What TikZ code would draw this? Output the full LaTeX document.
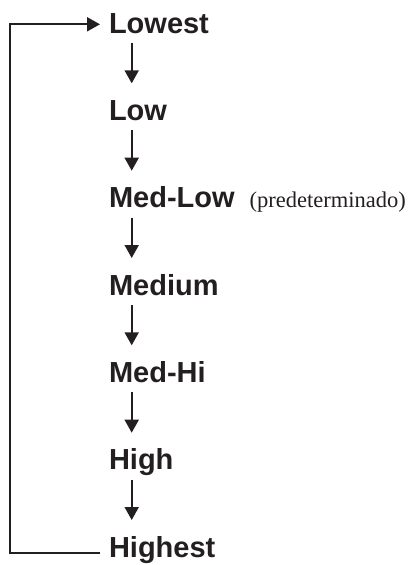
\documentclass[tikz,border=0pt]{standalone}
\usepackage{fontspec}
\setmainfont{Liberation Sans}
\newfontfamily\serifpd{Liberation Serif}
\usetikzlibrary{arrows.meta}
\definecolor{ink}{RGB}{35,31,32}
\begin{document}
\begin{tikzpicture}[x=1pt,y=-1pt,
  lbl/.style={anchor=base west,inner sep=0pt,outer sep=0pt,text=ink,
    font=\fontsize{29}{31}\selectfont\bfseries},
  note/.style={anchor=base west,inner sep=0pt,outer sep=0pt,text=ink,
    font=\serifpd\fontsize{22.5}{24}\selectfont},
  conn/.style={draw=ink,line width=2pt,-{Triangle[length=13pt,width=14pt]}},
  loopline/.style={draw=ink,line width=2pt}]
\useasboundingbox (0,0) rectangle (412,565);
\node[lbl] (n1) at (109,33.0) {Lowest};
\node[lbl] (n2) at (109,120.3) {Low};
\node[lbl] (n3) at (109,207.7) {Med-Low};
\node[note] (pd) at ([xshift=15pt]n3.base east) {(predeterminado)};
\node[lbl] (n4) at (109,295.0) {Medium};
\node[lbl] (n5) at (109,382.3) {Med-Hi};
\node[lbl] (n6) at (109,469.7) {High};
\node[lbl] (n7) at (109,557.0) {Highest};
\foreach \a/\b in {n1/n2,n2/n3,n3/n4,n4/n5,n5/n6,n6/n7}{
  \draw[conn] ([shift={(22.7,10)}]\a.base west) -- ([shift={(22.7,-37)}]\b.base west);
}
\draw[loopline,-{Triangle[length=13pt,width=14pt]}]
  ([shift={(-9,-4.4)}]n7.base west) -- ++(-90,0) |- ([shift={(-9,-8.7)}]n1.base west);
\end{tikzpicture}
\end{document}
